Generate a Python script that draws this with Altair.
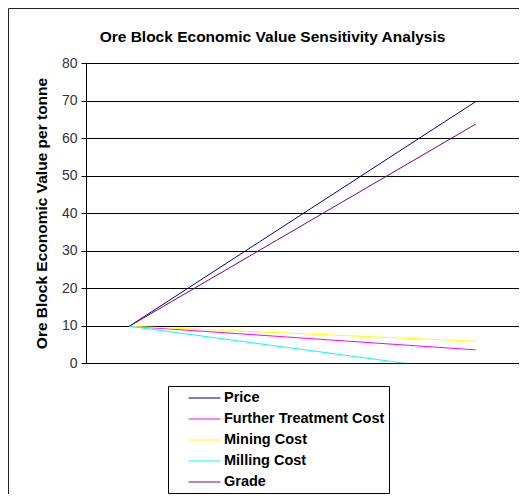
import altair as alt
import pandas as pd

series = ["Price", "Further Treatment Cost", "Mining Cost", "Milling Cost", "Grade"]
colors = ["#000080", "#FF00FF", "#FFFF00", "#00FFFF", "#800080"]
x_points = [0, 1]
start_values = [9.8, 9.8, 9.8, 9.8, 9.8]
end_values = [69.7, 3.5, 5.8, -2.6, 63.7]
y_ticks = [0, 10, 20, 30, 40, 50, 60, 70, 80]

rows = []
for s, a, b in zip(series, start_values, end_values):
    rows.append({"series": s, "step": x_points[0], "value": a})
    rows.append({"series": s, "step": x_points[1], "value": b})
df = pd.DataFrame(rows)

W, H = 433, 300
FONT = "Liberation Sans"

lines = alt.Chart(df).mark_line(strokeWidth=1, clip=True).encode(
    x=alt.X("step:Q", axis=None, scale=alt.Scale(domain=[-0.125, 1.125], nice=False, zero=False)),
    y=alt.Y(
        "value:Q",
        scale=alt.Scale(domain=[0, 80], nice=False),
        axis=alt.Axis(
            values=y_ticks,
            title="Ore Block Economic Value per tonne",
            titleFont=FONT,
            titleFontSize=15.5,
            titleFontWeight="bold",
            titleColor="#000000",
            titlePadding=12,
            labelFont=FONT,
            labelFontSize=14,
            labelColor="#333333",
            labelPadding=4,
            tickSize=5,
            tickColor="#000000",
            domainColor="#000000",
            grid=True,
            gridColor="#000000",
            gridWidth=1,
        ),
    ),
    color=alt.Color(
        "series:N",
        scale=alt.Scale(domain=series, range=colors),
        legend=alt.Legend(
            title=None,
            orient="none",
            legendX=82,
            legendY=323,
            symbolType="M-2.133,0H2.133",
            symbolSize=225,
            symbolStrokeWidth=1,
            symbolOffset=24.5,
            labelFont=FONT,
            labelFontSize=14.5,
            labelFontWeight="bold",
            labelColor="#000000",
            labelOffset=11.5,
            rowPadding=6,
            padding=4,
            strokeColor="#000000",
            fillColor="#FFFFFF",
            labelLimit=300,
        ),
    ),
)

frame = alt.Chart(pd.DataFrame({"k": [0]})).mark_rect(
    fill=None, stroke="#222222", strokeWidth=1, clip=False
).encode(
    x=alt.value(-77.5), x2=alt.value(W + 40), y=alt.value(-54.5), y2=alt.value(H + 250)
)

chart = alt.layer(frame, lines).properties(
    width=W,
    height=H,
    autosize=alt.AutoSizeParams(type="none"),
    padding={"left": 78, "top": 55, "right": 0, "bottom": 131},
    title=alt.TitleParams(
        "Ore Block Economic Value Sensitivity Analysis",
        font=FONT,
        fontSize=15.5,
        fontWeight="bold",
        color="#000000",
        dx=-30,
        offset=-37,
        frame="group",
    ),
).configure_view(stroke="#888888", strokeWidth=1)

chart.save("out.html", embed_options={"renderer": "svg", "actions": False})
